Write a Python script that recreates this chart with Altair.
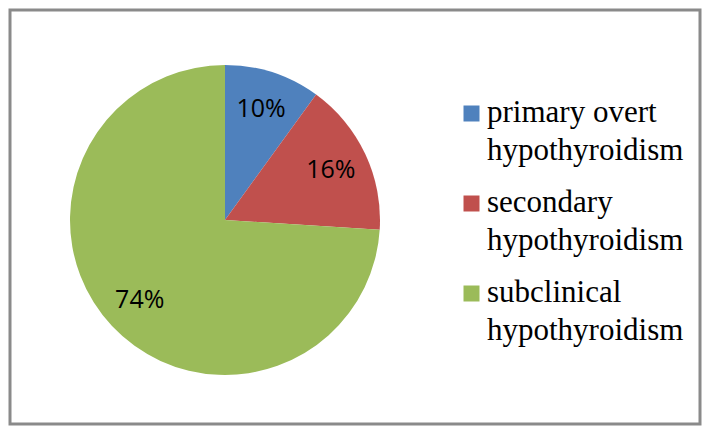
import altair as alt
import pandas as pd

categories = ["primary overt\nhypothyroidism", "secondary\nhypothyroidism", "subclinical\nhypothyroidism"]
values = [10, 16, 74]
labels = ["10%", "16%", "74%"]
colors = ["#4F81BD", "#C0504D", "#9BBB59"]

df = pd.DataFrame({"category": categories, "value": values, "label": labels, "order": [0, 1, 2]})

cx, cy = 215, 210

base = alt.Chart(df).encode(
    theta=alt.Theta("value:Q", stack=True),
    order=alt.Order("order:Q"),
)

pie = base.mark_arc(radius=155, stroke=None).encode(
    x=alt.value(cx),
    y=alt.value(cy),
    color=alt.Color(
        "category:N",
        sort=categories,
        scale=alt.Scale(domain=categories, range=colors),
        legend=alt.Legend(
            title=None,
            orient="none",
            legendX=446,
            legendY=96,
            labelFont="Liberation Serif",
            labelFontSize=31,
            labelColor="#000000",
            labelLimit=400,
            labelOffset=0,
            labelBaseline="alphabetic",
            labelExpr="split(datum.label, '\\n')",
            symbolType="M-1,-2H1V0H-1Z",
            symbolSize=256,
            symbolStrokeWidth=0,
            symbolOpacity=1,
            rowPadding=20,
            padding=0,
        ),
    ),
)

text = base.mark_text(
    radius=117,
    font="Open Sans",
    fontSize=25,
    color="#000000",
    baseline="middle",
    align="center",
).encode(
    x=alt.value(cx),
    y=alt.value(cy),
    text="label:N",
)

chart = (
    alt.layer(pie, text)
    .properties(
        width=690,
        height=414,
        padding={"left": 2, "top": 2, "right": 2, "bottom": 2},
        autosize=alt.AutoSizeParams(type="none"),
        background="#ffffff",
    )
    .configure(
        view={"stroke": "#8a8a8a", "strokeWidth": 3},
        style={"guide-label": {"lineHeight": 38}},
    )
)

chart.save("out.html", embed_options={"renderer": "svg", "actions": False})
